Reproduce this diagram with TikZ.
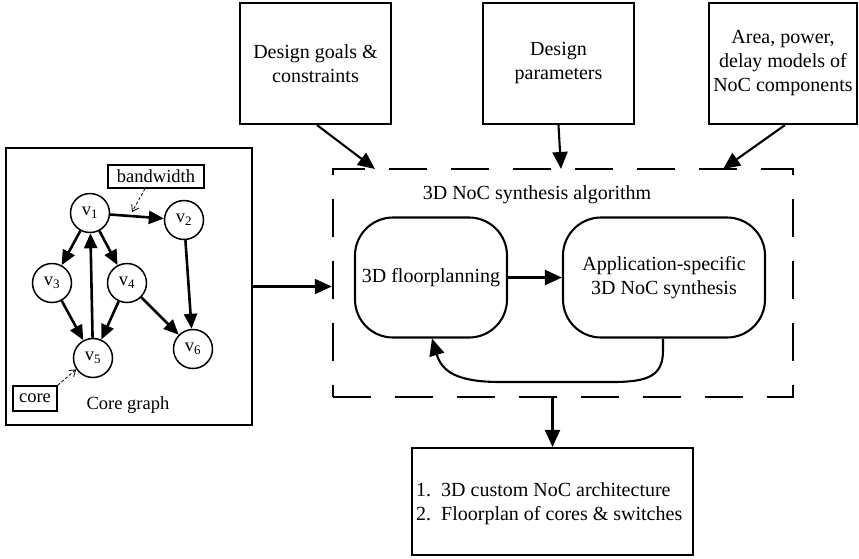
\documentclass[tikz,border=0pt]{standalone}
\usepackage{fontspec}
\setmainfont{Liberation Serif}
\usetikzlibrary{arrows.meta}
\begin{document}
\begin{tikzpicture}[x=1pt,y=-1pt,
 box/.style={draw, line width=2.1pt, inner sep=0pt, align=center, font=\fontsize{20}{24}\selectfont},
 rbox/.style={box, rounded corners=38pt},
 vtx/.style={circle, draw, line width=1.5pt, minimum size=39pt, inner sep=0pt, font=\fontsize{18.5}{22}\selectfont},
 big/.style={line width=2.1pt, -{Triangle[length=17pt,width=15pt]}},
 gedge/.style={line width=2.6pt, -{Triangle[length=15pt,width=13pt]}},
 note/.style={draw, line width=1.4pt, inner sep=0pt, font=\fontsize{18.5}{22}\selectfont},
 thinarr/.style={densely dashed, line width=0.8pt, -{Straight Barb[length=6pt,width=8pt]}},
 lbl/.style={inner sep=0pt, font=\fontsize{20}{24}\selectfont},
]
\useasboundingbox (0,0) rectangle (859,558);

% top input boxes
\node[box, minimum width=151pt, minimum height=121pt] (goals) at (315.5,63.5) {Design goals \&\\constraints};
\node[box, minimum width=151pt, minimum height=121pt] (param) at (558.5,63.5) {Design\\parameters};
\node[box, minimum width=148pt, minimum height=121pt] (models) at (783,63.5) {Area, power,\\delay models of\\NoC components};

% algorithm box
\node[draw, line width=2.5pt, dash pattern=on 38pt off 24pt, minimum width=460pt, minimum height=228pt, inner sep=0pt] (alg) at (563,283) {};
\node[lbl] (algt) at (537,195) {3D NoC synthesis algorithm};
\node[rbox, minimum width=152pt, minimum height=120pt] (fp) at (431,277.5) {3D floorplanning};
\node[rbox, minimum width=202pt, minimum height=120pt] (app) at (664,277.5) {Application-specific\\3D NoC synthesis};

% output box
\node[box, minimum width=281pt, minimum height=107pt] (out) at (552.5,501.5) {};
\node[lbl, anchor=west, align=left] (outt) at (416,504) {1.\ \ 3D custom NoC architecture\\2.\ \ Floorplan of cores \& switches};

% core graph
\node[draw, line width=2.1pt, minimum width=246pt, minimum height=277pt, inner sep=0pt] (cg) at (129,286.5) {};
\node[vtx] (v1) at (90,213) {v\textsubscript{1}};
\node[vtx] (v2) at (184,220) {v\textsubscript{2}};
\node[vtx] (v3) at (52,283) {v\textsubscript{3}};
\node[vtx] (v4) at (127,283) {v\textsubscript{4}};
\node[vtx] (v5) at (93,358) {v\textsubscript{5}};
\node[vtx] (v6) at (193,349) {v\textsubscript{6}};
\node[note, minimum width=96pt, minimum height=23pt] (bw) at (156,176.5) {bandwidth};
\node[note, minimum width=44pt, minimum height=25pt] (core) at (35,398.5) {core};
\node[inner sep=0pt, font=\fontsize{18.5}{22}\selectfont] (cgl) at (128,405) {Core graph};

\draw[gedge] (v1) -- (v2);
\draw[gedge] (v1) -- (v3);
\draw[gedge] (v1) -- (v4);
\draw[gedge] (v3) -- (v5);
\draw[gedge] (v4) -- (v5);
\draw[gedge] (v5) -- (v1);
\draw[gedge] (v4) -- (v6);
\draw[gedge] (v2) -- (v6);

\coordinate (bwp) at (132,212);
\draw[thinarr] ([xshift=-11pt]bw.south) -- (bwp);
\draw[thinarr] (core.north east) -- (v5.214);

% main arrows
\coordinate (a1) at (375,169);
\coordinate (a2) at (561,169);
\coordinate (a3) at (723,169);
\draw[big] ([xshift=1.5pt]goals.south) -- (a1);
\draw[big] (param.south) -- (a2);
\draw[big] ([xshift=2pt]models.south) -- (a3);
\draw[big] (cg.east) -- (cg.east -| alg.west);
\draw[big] (fp) -- (app);
\draw[big] (alg.south -| out.north) -- (out.north);
\draw[big] ([xshift=-1pt]app.south) -- ([xshift=-1pt,yshift=-12pt]app.south)
  .. controls (663,376) and (648,382) .. (612,382) -- (500,382)
  .. controls (458,382) and (442,372) .. ([xshift=1pt]fp.south);
\end{tikzpicture}
\end{document}
